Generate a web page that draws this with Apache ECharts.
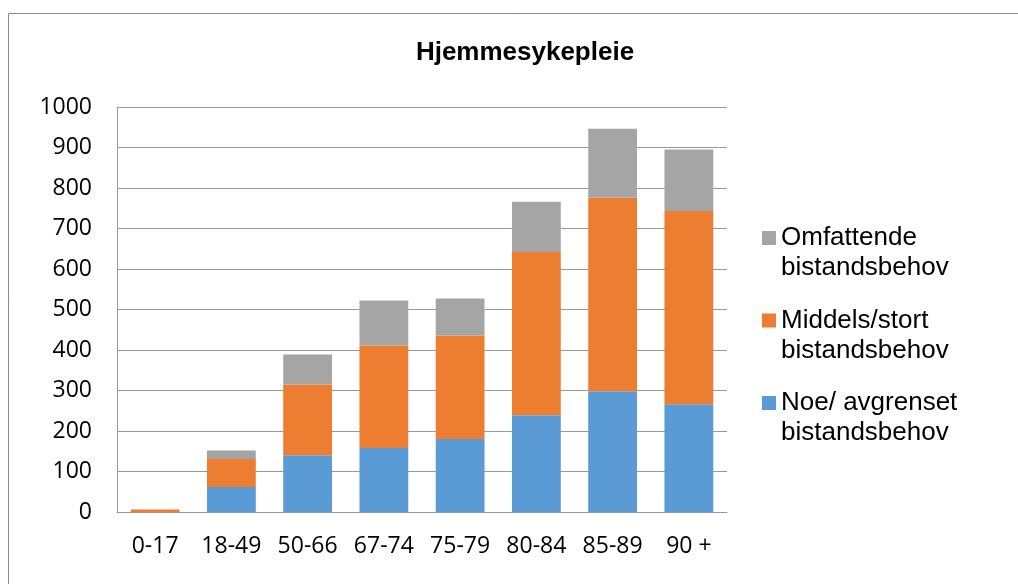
<!DOCTYPE html>
<html>
<head>
<meta charset="utf-8">
<script src="https://cdn.jsdelivr.net/npm/echarts@6/dist/echarts.min.js"></script>
<style>
  html, body { margin: 0; padding: 0; background: #fff; }
  #chart { width: 1018px; height: 584px; }
</style>
</head>
<body>
<div id="chart"></div>
<script>
// Age groups on the x axis
const ageGroups = ['0-17', '18-49', '50-66', '67-74', '75-79', '80-84', '85-89', '90 +'];

// Home nursing recipients per age group, by level of need (stacked)
const noeAvgrenset = [0, 62, 140, 158, 180, 239, 298, 266];
const middelsStort = [6, 69, 175, 253, 256, 403, 478, 477];
const omfattende = [0, 21, 74, 111, 91, 124, 170, 152];

const seriesNames = [
  'Noe/ avgrenset\nbistandsbehov',
  'Middels/stort\nbistandsbehov',
  'Omfattende\nbistandsbehov'
];
const seriesColors = ['#5B9BD5', '#ED7D31', '#A5A5A5'];

const chart = echarts.init(document.getElementById('chart'), null, { renderer: 'canvas' });

const axisGray = '#999999';
const tickFont = 'Open Sans';

chart.setOption({
  animation: false,
  backgroundColor: '#ffffff',
  title: {
    text: 'Hjemmesykepleie',
    left: 520,
    top: 35,
    textAlign: 'center',
    textStyle: {
      fontFamily: 'Liberation Sans',
      fontWeight: 'bold',
      fontSize: 26,
      color: '#000'
    }
  },
  graphic: [{
    type: 'rect',
    shape: { x: 8.5, y: 13.5, width: 1200, height: 800 },
    style: { fill: 'none', stroke: '#8a8a8a', lineWidth: 1 },
    silent: true
  }],
  legend: {
    orient: 'vertical',
    left: 762,
    top: 193,
    padding: 0,
    itemGap: -7.5,
    itemWidth: 14,
    itemHeight: 14,
    icon: 'rect',
    data: [seriesNames[2], seriesNames[1], seriesNames[0]],
    // a blank leading line keeps the swatch level with the first text line
    formatter: (name) => '\u00a0\n' + name,
    textStyle: {
      fontFamily: 'Liberation Sans',
      fontSize: 26,
      lineHeight: 30,
      color: '#000'
    }
  },
  grid: {
    left: 117,
    right: 291,
    top: 107,
    bottom: 72,
    containLabel: false
  },
  xAxis: {
    type: 'category',
    data: ageGroups,
    axisLine: { show: true, lineStyle: { color: axisGray, width: 1 } },
    axisTick: { show: false },
    axisLabel: {
      interval: 0,
      margin: 23,
      fontFamily: tickFont,
      fontSize: 23,
      color: '#000'
    }
  },
  yAxis: {
    type: 'value',
    min: 0,
    max: 1000,
    interval: 100,
    axisLine: { show: true, lineStyle: { color: axisGray, width: 1 } },
    axisTick: { show: false },
    splitLine: { show: true, lineStyle: { color: axisGray, width: 1 } },
    axisLabel: {
      margin: 25,
      fontFamily: tickFont,
      fontSize: 23,
      color: '#000',
      formatter: (v) => String(v)
    }
  },
  series: [
    { name: seriesNames[0], type: 'bar', stack: 'total', data: noeAvgrenset },
    { name: seriesNames[1], type: 'bar', stack: 'total', data: middelsStort },
    { name: seriesNames[2], type: 'bar', stack: 'total', data: omfattende }
  ].map((s, i) => Object.assign(s, {
    barWidth: '64%',
    itemStyle: { color: seriesColors[i] }
  }))
});
</script>
</body>
</html>
